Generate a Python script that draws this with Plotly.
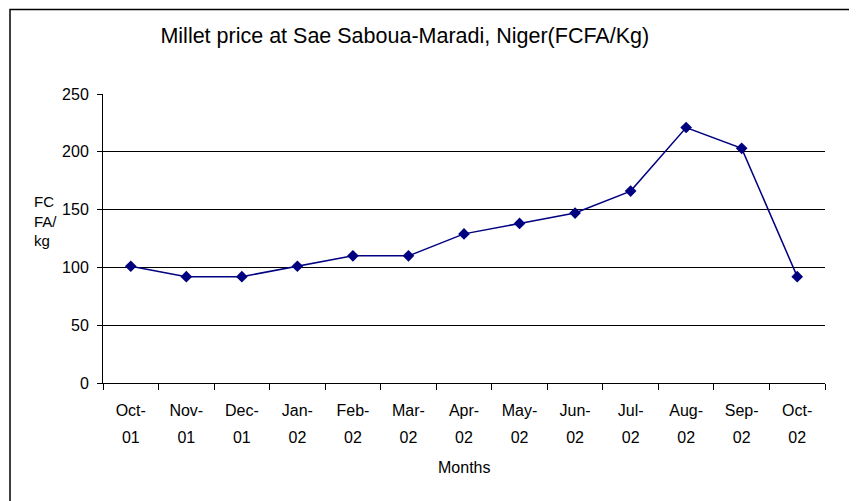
import plotly.graph_objects as go

# Millet price data (FCFA/kg)
months = ['Oct-01', 'Nov-01', 'Dec-01', 'Jan-02', 'Feb-02', 'Mar-02', 'Apr-02',
          'May-02', 'Jun-02', 'Jul-02', 'Aug-02', 'Sep-02', 'Oct-02']
month_labels = ['Oct-', 'Nov-', 'Dec-', 'Jan-', 'Feb-', 'Mar-', 'Apr-',
                'May-', 'Jun-', 'Jul-', 'Aug-', 'Sep-', 'Oct-']
year_labels = ['01', '01', '01', '02', '02', '02', '02',
               '02', '02', '02', '02', '02', '02']
prices = [101, 92, 92, 101, 110, 110, 129, 138, 147, 166, 221, 203, 92]

font_family = 'Liberation Sans, Arial, sans-serif'
navy = '#000080'

fig = go.Figure()

fig.add_trace(go.Scatter(
    x=months, y=prices,
    mode='lines+markers',
    line=dict(color=navy, width=1.5),
    marker=dict(symbol='diamond', size=9, color=navy),
    showlegend=False
))

# invisible copy so the second (year) axis gets drawn
fig.add_trace(go.Scatter(
    x=months, y=prices, xaxis='x2',
    mode='lines', line=dict(width=0), opacity=0,
    hoverinfo='skip', showlegend=False
))

# page body has an 8px margin, so margins are shifted by 8px
fig.update_layout(
    width=857, height=501,
    margin=dict(l=95, r=40, t=86, b=126),
    paper_bgcolor='white', plot_bgcolor='white',
    font=dict(family=font_family, color='black', size=16),
    title=dict(
        text='Millet price at Sae Saboua-Maradi, Niger(FCFA/Kg)',
        font=dict(size=21.5, color='black'),
        xref='paper', x=0.418, xanchor='center',
        yref='container', y=0.946, yanchor='middle'
    ),
    xaxis=dict(
        type='category', categoryorder='array', categoryarray=months,
        range=[-0.5, len(months) - 0.5],
        tickmode='array', tickvals=months, ticktext=month_labels,
        tickson='boundaries', ticks='outside', ticklen=6,
        tickcolor='black', showline=True, linecolor='black', linewidth=1,
        showgrid=False, ticklabelstandoff=13, tickfont=dict(size=16)
    ),
    xaxis2=dict(
        type='category', categoryorder='array', categoryarray=months,
        overlaying='x', matches='x', anchor='y', side='bottom',
        tickmode='array', tickvals=months, ticktext=year_labels,
        ticks='', showline=False, showgrid=False,
        ticklabelstandoff=43, tickfont=dict(size=16)
    ),
    yaxis=dict(
        range=[0, 250], dtick=50,
        ticks='outside', ticklen=5, tickcolor='black',
        showline=True, linecolor='black', linewidth=1,
        showgrid=True, gridcolor='black', gridwidth=1,
        zeroline=False, ticklabelstandoff=5, tickfont=dict(size=16)
    ),
    annotations=[
        dict(text='FC<br>FA/<br>kg', xref='paper', yref='paper',
             x=-0.098, y=0.56, xanchor='left', yanchor='middle',
             align='left', showarrow=False, font=dict(size=15)),
        dict(text='Months', xref='paper', yref='paper',
             x=0.5, y=-0.294, xanchor='center', yanchor='middle',
             showarrow=False, font=dict(size=16))
    ],
    shapes=[
        dict(type='rect', xref='paper', yref='paper',
             x0=-0.1288, x1=1.4, y0=-0.8, y1=1.2924,
             line=dict(color='black', width=1.5))
    ]
)

fig.write_html('out.html')
